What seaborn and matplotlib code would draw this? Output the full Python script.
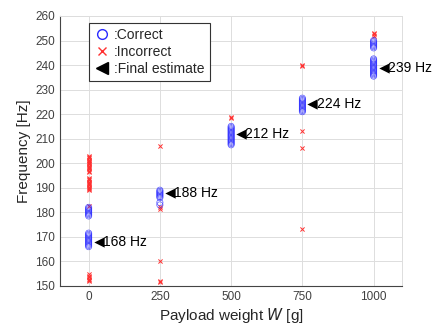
import pandas as pd
import seaborn as sns
import matplotlib.pyplot as plt
from matplotlib.lines import Line2D

# Payload weights and frequency estimates
weights = [0, 250, 500, 750, 1000]

correct = {
    0: [166, 166.5, 167, 167.5, 168, 168.5, 169, 169.5, 170, 170.5, 171, 171.5,
        178.5, 179, 179.5, 180, 180.5, 181, 181.5, 182],
    250: [183, 184, 186, 186.5, 187, 187.5, 188, 188.5, 189],
    500: [207.5, 208, 208.5, 209, 209.5, 210, 210.5, 211, 211.5, 212, 212.5,
          213, 213.5, 214, 214.5, 215],
    750: [221, 221.5, 222, 222.5, 223, 223.5, 224, 224.5, 225, 225.5, 226, 226.5],
    1000: [235.5, 236, 236.5, 237, 237.5, 238, 238.5, 239, 239.5, 240, 240.5,
           241, 241.5, 242, 242.5, 247, 247.5, 248, 248.5, 249, 249.5, 250],
}
incorrect = {
    0: [152, 152.5, 153, 153.5, 154, 155, 182.5,
        189, 189.5, 190, 190.5, 191, 191.5, 192, 192.5, 193, 193.5, 194,
        196.5, 197, 197.5, 198, 198.5, 199, 199.5, 200, 200.5, 201, 201.5,
        202, 202.5, 203],
    250: [151.5, 152, 160, 181.5, 182, 207],
    500: [218.5, 219],
    750: [173, 206, 213, 239.5, 240],
    1000: [252, 252.5, 253],
}
final_est = [168, 188, 212, 224, 239]

df_c = pd.DataFrame([(w, f) for w in weights for f in correct[w]], columns=["W", "f"])
df_i = pd.DataFrame([(w, f) for w in weights for f in incorrect[w]], columns=["W", "f"])
df_e = pd.DataFrame({"W": weights, "f": final_est})
df_e["Wm"] = df_e["W"] + 35

sns.set_style("whitegrid")
plt.rcParams['font.family'] = ['Liberation Sans', 'DejaVu Sans']

fig, ax = plt.subplots(figsize=(4.39, 3.26), dpi=100)
fig.subplots_adjust(left=0.137, right=0.916, bottom=0.123, top=0.951)

sns.scatterplot(data=df_i, x="W", y="f", marker="x", color="#ff3030", s=9,
                linewidth=0.7, ax=ax, zorder=3)
sns.scatterplot(data=df_c, x="W", y="f", marker="o", facecolor="none",
                edgecolor="#2a2aff", s=20, linewidth=0.5, alpha=0.8, ax=ax, zorder=4)
sns.scatterplot(data=df_e, x="Wm", y="f", marker="<", color="black", s=55,
                linewidth=0, ax=ax, zorder=5)
for w, f in zip(weights, final_est):
    ax.text(w + 50, f, f"{f} Hz", ha="left", va="center", fontsize=10, color="black")

ax.set_xlim(-100, 1100)
ax.set_ylim(150, 260)
ax.set_xticks(weights)
ax.set_yticks(range(150, 261, 10))
ax.grid(True, color="#dddddd", linewidth=0.7)
ax.tick_params(direction="in", length=3, colors="#555555", labelsize=8.5,
               labelcolor="#404040", right=False, top=False)
for s in ["left", "bottom"]:
    ax.spines[s].set_color("#444444")
    ax.spines[s].set_linewidth(0.8)
for s in ["right", "top"]:
    ax.spines[s].set_color("#dddddd")
    ax.spines[s].set_linewidth(0.7)

ax.set_xlabel("Payload weight $\\mathit{W}$ [g]", fontsize=11, labelpad=2)
ax.set_ylabel("Frequency [Hz]", fontsize=11, labelpad=3)

handles = [
    Line2D([], [], marker="o", linestyle="none", markerfacecolor="none",
           markeredgecolor="#2a2aff", markersize=7),
    Line2D([], [], marker="x", linestyle="none", color="#ff3030", markersize=6),
    Line2D([], [], marker="<", linestyle="none", color="black", markersize=9),
]
leg = ax.legend(handles, [":Correct", ":Incorrect", ":Final estimate"],
                loc="upper left", bbox_to_anchor=(0.085, 0.975), fontsize=10,
                handlelength=1.0, handletextpad=0.35, labelspacing=0.2,
                borderpad=0.4, borderaxespad=0, fancybox=False, framealpha=1)
leg.get_frame().set_edgecolor("#333333")
leg.get_frame().set_linewidth(0.8)

fig.savefig("out.png", dpi=100)
